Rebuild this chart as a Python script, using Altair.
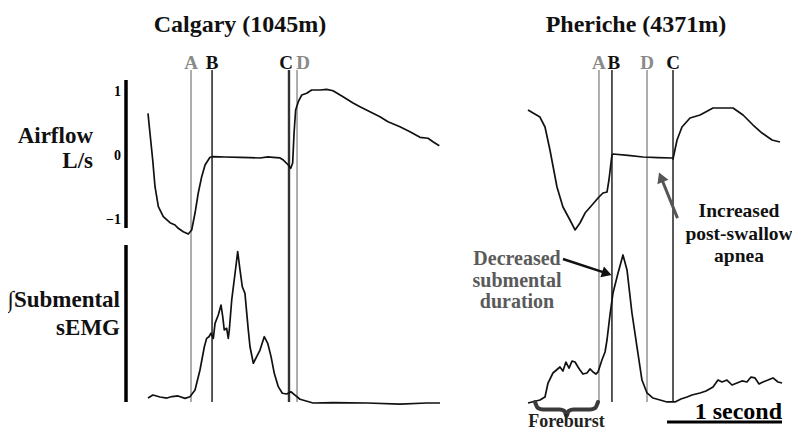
import math
import altair as alt
import pandas as pd

# ---------------- data (time in s from trace start) ----------------
sites = ["Calgary", "Pheriche"]
site_titles = ["Calgary (1045m)", "Pheriche (4371m)"]

cal_air_t = [0.0, 0.017, 0.041, 0.061, 0.090, 0.133, 0.191, 0.235, 0.263, 0.307, 0.350, 0.380, 0.409, 0.437,
             0.467, 0.496, 0.539, 0.568, 0.670, 0.800, 0.885, 0.974, 1.043, 1.087, 1.148, 1.177, 1.220, 1.241,
             1.258, 1.270, 1.284, 1.307, 1.337, 1.380, 1.423, 1.496, 1.554, 1.609, 1.696, 1.783, 1.843, 1.930,
             2.017, 2.087, 2.191, 2.278, 2.365, 2.435, 2.478, 2.533]
cal_air_v = [0.667, 0.359, -0.063, -0.480, -0.792, -0.948, -1.042, -1.078, -1.130, -1.183, -1.219, -1.156,
             -0.891, -0.578, -0.323, -0.141, -0.020, -0.011, -0.016, -0.020, -0.025, -0.031, -0.015, -0.020,
             -0.030, -0.063, -0.141, -0.192, -0.109, 0.359, 0.719, 0.848, 0.953, 0.980, 1.031, 1.031, 1.042,
             1.020, 0.927, 0.828, 0.770, 0.692, 0.614, 0.536, 0.458, 0.380, 0.292, 0.277, 0.223, 0.161]

cal_emg_t = [0.0, 0.043, 0.104, 0.165, 0.209, 0.261, 0.322, 0.365, 0.409, 0.452, 0.490, 0.510, 0.530, 0.548,
             0.568, 0.583, 0.611, 0.635, 0.650, 0.663, 0.684, 0.698, 0.707, 0.728, 0.757, 0.780, 0.800, 0.820,
             0.843, 0.872, 0.887, 0.916, 0.945, 0.974, 1.011, 1.041, 1.070, 1.098, 1.133, 1.168, 1.206, 1.243,
             1.278, 1.322, 1.435, 1.609, 1.904, 2.191, 2.426, 2.539]
cal_emg_v = [0.033, 0.053, 0.040, 0.033, 0.043, 0.047, 0.031, 0.042, 0.087, 0.220, 0.375, 0.431, 0.442, 0.465,
             0.431, 0.531, 0.587, 0.653, 0.575, 0.487, 0.498, 0.431, 0.487, 0.687, 0.865, 1.009, 0.887, 0.775,
             0.731, 0.487, 0.375, 0.265, 0.309, 0.353, 0.442, 0.398, 0.309, 0.198, 0.109, 0.065, 0.060, 0.075,
             0.053, 0.025, 0.000, 0.003, 0.000, -0.007, 0.000, 0.000]

phe_air_t = [0.0, 0.104, 0.148, 0.191, 0.252, 0.304, 0.365, 0.409, 0.452, 0.496, 0.557, 0.609, 0.652, 0.687,
             0.704, 0.730, 0.739, 0.870, 1.000, 1.130, 1.252, 1.261, 1.296, 1.339, 1.409, 1.496, 1.609, 1.696,
             1.783, 1.870, 1.957, 2.035, 2.122, 2.191]
phe_air_v = [0.719, 0.609, 0.453, 0.094, -0.484, -0.797, -1.000, -1.156, -1.047, -0.891, -0.766, -0.656,
             -0.578, -0.563, -0.375, 0.016, 0.031, 0.010, -0.016, -0.025, -0.031, -0.047, 0.250, 0.453, 0.594,
             0.641, 0.750, 0.750, 0.750, 0.641, 0.484, 0.359, 0.250, 0.219]

phe_emg_t = [0.0, 0.104, 0.148, 0.174, 0.217, 0.278, 0.304, 0.330, 0.357, 0.383, 0.409, 0.435, 0.452, 0.478,
             0.513, 0.539, 0.565, 0.591, 0.609, 0.643, 0.670, 0.687, 0.713, 0.739, 0.783, 0.826, 0.861, 0.904,
             0.948, 0.991, 1.035, 1.087, 1.148, 1.209, 1.278, 1.330, 1.383, 1.426, 1.496, 1.548, 1.609, 1.652,
             1.687, 1.730, 1.774, 1.817, 1.861, 1.904, 1.939, 1.974, 2.009, 2.043, 2.087, 2.130, 2.174, 2.209]
phe_emg_v = [0.000, 0.020, 0.040, 0.133, 0.200, 0.240, 0.213, 0.273, 0.233, 0.280, 0.273, 0.240, 0.220, 0.193,
             0.200, 0.227, 0.207, 0.193, 0.207, 0.287, 0.340, 0.420, 0.587, 0.733, 0.867, 0.987, 0.887, 0.600,
             0.373, 0.153, 0.067, 0.033, 0.020, 0.007, 0.007, 0.027, 0.040, 0.053, 0.067, 0.080, 0.107, 0.153,
             0.140, 0.153, 0.120, 0.133, 0.147, 0.140, 0.173, 0.167, 0.127, 0.140, 0.153, 0.167, 0.140, 0.133]

cal_event_labels = ["A", "B", "C", "D"]
cal_event_t = [0.374, 0.557, 1.226, 1.296]
phe_event_labels = ["A", "B", "D", "C"]
phe_event_t = [0.617, 0.730, 1.035, 1.261]

air_ticks = [1, 0, -1]
foreburst_span = [0.061, 0.609]          # Pheriche, s
scale_bar_span = [1.209, 2.209]          # Pheriche, 1 second
apnea_arrow = [(1.30, -0.97), (1.14, -0.26)]       # (t, L/s) tail -> tip, Pheriche
duration_arrow = [(0.304, 0.96), (0.727, 0.853)]   # (t, EMG) tail -> tip, Pheriche

# ---------------- layout constants ----------------
W, H = 784, 422
PX_T, PX_AIR, PX_EMG = 115.0, 64.0, 150.0
X0 = -140.0 / PX_T
X1 = X0 + W / PX_T
OFFSET = {"Calgary": 0.0, "Pheriche": 3.3043}
AIR_DOM = [(148.0 - H) / PX_AIR, 148.0 / PX_AIR]
EMG_DOM = [(395.0 - H) / PX_EMG, 395.0 / PX_EMG]
FONT = "'Liberation Serif', 'Times New Roman', serif"

xs = alt.Scale(domain=[X0, X1], nice=False, zero=False)
ya = alt.Scale(domain=AIR_DOM, nice=False, zero=False)
ye = alt.Scale(domain=EMG_DOM, nice=False, zero=False)


def trace_df(t, v, site):
    return pd.DataFrame({"t": t, "v": v, "site": site, "td": [x + OFFSET[site] for x in t]})


air_df = pd.concat([trace_df(cal_air_t, cal_air_v, "Calgary"), trace_df(phe_air_t, phe_air_v, "Pheriche")])
emg_df = pd.concat([trace_df(cal_emg_t, cal_emg_v, "Calgary"), trace_df(phe_emg_t, phe_emg_v, "Pheriche")])

ev_df = pd.concat([
    pd.DataFrame({"label": cal_event_labels, "t": cal_event_t, "site": "Calgary"}),
    pd.DataFrame({"label": phe_event_labels, "t": phe_event_t, "site": "Pheriche"}),
])
ev_df["td"] = ev_df["t"] + ev_df["site"].map(OFFSET)

ev_color = alt.Scale(domain=["A", "B", "C", "D"], range=["#8a8a8a", "#111111", "#111111", "#8a8a8a"])
lab_color = alt.Scale(domain=["A", "B", "C", "D"], range=["#7a7a7a", "#111111", "#111111", "#7a7a7a"])

X = lambda f: alt.X(f, type="quantitative", scale=xs, axis=None)
XX = lambda f: alt.X2(f)
YA = lambda f: alt.Y(f, type="quantitative", scale=ya, axis=None)
YE = lambda f: alt.Y(f, type="quantitative", scale=ye, axis=None)

# traces
air_line = alt.Chart(air_df).mark_line(color="#111", strokeWidth=1.7, strokeJoin="round").encode(
    x=X("td"), y=YA("v"), detail="site:N", order="t:Q")
emg_line = alt.Chart(emg_df).mark_line(color="#111", strokeWidth=1.7, strokeJoin="round").encode(
    x=X("td"), y=YE("v"), detail="site:N", order="t:Q")

# event lines and labels
ev_rules = alt.Chart(ev_df).transform_calculate(
    strong="datum.site == 'Calgary' && datum.label == 'C' ? 'y' : 'n'"
).mark_rule().encode(
    x=X("td"), y=alt.value(62), y2=alt.value(394),
    color=alt.condition("datum.strong == 'y'", alt.value("#333333"),
                        alt.Color("label:N", scale=ev_color, legend=None)),
    strokeWidth=alt.condition("datum.strong == 'y'", alt.value(2.4), alt.value(1.4)),
)
ev_labels = alt.Chart(ev_df).transform_calculate(
    tl="datum.td + (datum.site == 'Calgary' && datum.label == 'C' ? -3/115 : 0)"
          " + (datum.site == 'Calgary' && datum.label == 'D' ? 6/115 : 0)"
          " + (datum.site == 'Pheriche' && datum.label == 'B' ? 2/115 : 0)"
).mark_text(font=FONT, fontWeight="bold", fontSize=19, baseline="alphabetic").encode(
    x=X("tl"), y=alt.value(61), text="label:N",
    color=alt.Color("label:N", scale=lab_color, legend=None))

# airflow axis (bar + tick labels) and EMG bar
bars_df = pd.DataFrame({"which": ["air", "emg"]})
air_bar = alt.Chart(bars_df).transform_filter("datum.which == 'air'").mark_rule(
    color="#000", strokeWidth=3.5).encode(x=alt.value(118), y=alt.value(72), y2=alt.value(220))
emg_bar = alt.Chart(bars_df).transform_filter("datum.which == 'emg'").mark_rule(
    color="#000", strokeWidth=3.5).encode(x=alt.value(118), y=alt.value(237), y2=alt.value(394))
tick_labels = alt.Chart(pd.DataFrame({"v": air_ticks})).mark_text(
    font=FONT, fontWeight="bold", fontSize=14, align="right", baseline="middle").encode(
    x=alt.value(113), y=YA("v"), text=alt.Text("v:Q", format="d"))


# titles & labels
def text_layer(txt, x, y, size, color="#111", align="center", line_height=None):
    kw = dict(font=FONT, fontWeight="bold", fontSize=size, align=align, baseline="alphabetic",
              color=color, lineBreak="\n")
    if line_height:
        kw["lineHeight"] = line_height
    return alt.Chart(pd.DataFrame({"txt": [txt]})).mark_text(**kw).encode(
        x=alt.value(x), y=alt.value(y), text="txt:N")


title_cal = text_layer(site_titles[0], 232, 24, 24)
title_phe = text_layer(site_titles[1], 628, 24, 24)
air_title = text_layer("Airflow\nL/s", 85, 135, 23, align="right", line_height=25)
emg_title = text_layer("\u222bSubmental\nsEMG", 112, 299, 23, align="right", line_height=28)
apnea_txt = text_layer("Increased\npost-swallow\napnea", 731, 209, 19.5, line_height=22.5)
dur_txt = text_layer("Decreased\nsubmental\nduration", 509, 257, 20, color="#5a5a5a", line_height=21.5)


# arrows
def arrow(tail, tip, pxy, yscale_enc, color, width, head_size):
    dx = (tip[0] - tail[0]) * PX_T
    dy = -(tip[1] - tail[1]) * pxy
    L = math.hypot(dx, dy)
    ux, uy = dx / L, dy / L
    back = 5.0
    hc = (tip[0] - ux * back / PX_T, tip[1] + uy * back / pxy)
    ang = math.degrees(math.atan2(ux, -uy)) % 360
    off = OFFSET["Pheriche"]
    shaft = alt.Chart(pd.DataFrame({"t": [tail[0] + off], "v": [tail[1]],
                                    "t2": [hc[0] + off], "v2": [hc[1]]})).mark_rule(
        color=color, strokeWidth=width).encode(
        x=X("t"), x2=XX("t2"), y=yscale_enc("v"), y2=alt.Y2("v2"))
    head = alt.Chart(pd.DataFrame({"t": [hc[0] + off], "v": [hc[1]]})).mark_point(
        shape="triangle-up", filled=True, color=color, opacity=1, size=head_size, angle=ang).encode(
        x=X("t"), y=yscale_enc("v"))
    return shaft, head


ap_shaft, ap_head = arrow(apnea_arrow[0], apnea_arrow[1], PX_AIR, YA, "#555555", 3.0, 140)
du_shaft, du_head = arrow(duration_arrow[0], duration_arrow[1], PX_EMG, YE, "#111111", 2.4, 130)

# foreburst brace (shape built from the foreburst span)
s, e = foreburst_span
m = (s + e) / 2
bpx = [(s, 402), (s + 0.025, 408), (s + 0.07, 409.5), (m - 0.06, 409.5), (m - 0.018, 411), (m, 416),
       (m + 0.018, 411), (m + 0.06, 409.5), (e - 0.07, 409.5), (e - 0.025, 408), (e, 402)]
brace_df = pd.DataFrame({"t": [p[0] + OFFSET["Pheriche"] for p in bpx],
                         "v": [(403 - p[1]) / PX_EMG for p in bpx]})
brace_df["o"] = range(len(brace_df))
brace = alt.Chart(brace_df).mark_line(color="#3a3a3a", strokeWidth=4, interpolate="monotone",
                                      strokeCap="round").encode(x=X("t"), y=YE("v"), order="o:Q")
fb_txt = alt.Chart(pd.DataFrame({"t": [m + OFFSET["Pheriche"]], "txt": ["Foreburst"]})).mark_text(
    font=FONT, fontWeight="bold", fontSize=18, baseline="alphabetic", color="#222").encode(
    x=X("t"), y=alt.value(419), text="txt:N")

# scale bar
sb_df = pd.DataFrame({"t": [scale_bar_span[0] + OFFSET["Pheriche"]],
                      "t2": [scale_bar_span[1] + OFFSET["Pheriche"]], "txt": ["1 second"]})
sb_rule = alt.Chart(sb_df).mark_rule(color="#000", strokeWidth=3).encode(
    x=X("t"), x2=XX("t2"), y=alt.value(414))
sb_txt = alt.Chart(sb_df).mark_text(font=FONT, fontWeight="bold", fontSize=24, align="right",
                                    baseline="alphabetic", color="#000").encode(
    x=X("t2"), y=alt.value(411), text="txt:N")

air_group = alt.layer(air_line, tick_labels, ap_shaft, ap_head)
emg_group = alt.layer(emg_line, brace, du_shaft, du_head)

chart = alt.layer(
    ev_rules, air_group, emg_group, ev_labels, air_bar, emg_bar,
    title_cal, title_phe, air_title, emg_title, apnea_txt, dur_txt, fb_txt, sb_rule, sb_txt,
).resolve_scale(y="independent").properties(
    width=W, height=H, autosize=alt.AutoSizeParams(type="none"), padding=0, background="white"
).configure_view(stroke=None)

chart.save("out.html", embed_options={"renderer": "svg", "actions": False})
